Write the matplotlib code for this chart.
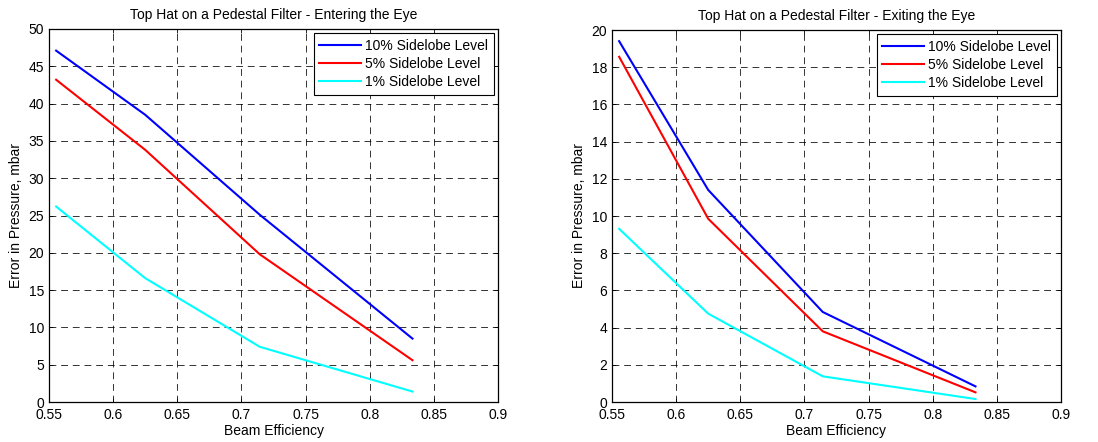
import matplotlib
matplotlib.use("Agg")
import matplotlib.pyplot as plt

plt.rcParams['font.family'] = ['Liberation Sans', 'DejaVu Sans']

# beam efficiency values
beam_eff = [5/9, 5/8, 5/7, 5/6]

# entering the eye (mbar)
enter_10 = [47.1, 38.5, 25.1, 8.5]
enter_5 = [43.2, 33.8, 19.8, 5.6]
enter_1 = [26.2, 16.6, 7.4, 1.4]

# exiting the eye (mbar)
exit_10 = [19.4, 11.4, 4.84, 0.84]
exit_5 = [18.56, 9.85, 3.8, 0.52]
exit_1 = [9.31, 4.75, 1.38, 0.16]

labels = ['10% Sidelobe Level', '5% Sidelobe Level', '1% Sidelobe Level']
colors = ['#0000ff', '#ff0000', '#00ffff']

xticks = [0.55, 0.6, 0.65, 0.7, 0.75, 0.8, 0.85, 0.9]
xticklabels = ['0.55', '0.6', '0.65', '0.7', '0.75', '0.8', '0.85', '0.9']

fig = plt.figure(figsize=(10.98, 4.42), dpi=100)
W, H = 1098.0, 442.0
FS = 10


def make_axes(left, right, top, bottom):
    return fig.add_axes([left / W, 1 - bottom / H, (right - left) / W, (bottom - top) / H])


def draw(ax, series, ymax, yticks, title):
    for vals, lab, col in zip(series, labels, colors):
        ax.plot(beam_eff, vals, color=col, linewidth=1.5, label=lab)
    ax.set_xlim(0.55, 0.9)
    ax.set_ylim(0, ymax)
    ax.set_xticks(xticks)
    ax.set_xticklabels(xticklabels)
    ax.set_yticks(yticks)
    ax.grid(True, color='k', linestyle=(0, (7, 5)), linewidth=0.7, alpha=0.8)
    ax.tick_params(direction='in', top=True, right=True, labelsize=FS,
                   length=3, width=0.6)
    ax.tick_params(axis='x', pad=4.5)
    ax.tick_params(axis='y', pad=3.5)
    for s in ax.spines.values():
        s.set_linewidth(0.9)
    ax.set_title(title, fontsize=FS, pad=7)
    ax.set_xlabel('Beam Efficiency', fontsize=FS, labelpad=1)
    ax.set_ylabel('Error in Pressure, mbar', fontsize=FS, labelpad=4)
    leg = ax.legend(loc='upper right', fontsize=FS, fancybox=False,
                    edgecolor='k', framealpha=1, borderaxespad=0.3,
                    handlelength=3.0, handletextpad=0.3, labelspacing=0.3,
                    borderpad=0.4)
    leg.get_frame().set_linewidth(0.8)


ax1 = make_axes(49, 498, 29, 402)
draw(ax1, [enter_10, enter_5, enter_1], 50, list(range(0, 51, 5)),
     'Top Hat on a Pedestal Filter - Entering the Eye')

ax2 = make_axes(612, 1061, 30, 402)
draw(ax2, [exit_10, exit_5, exit_1], 20, list(range(0, 21, 2)),
     'Top Hat on a Pedestal Filter - Exiting the Eye')

fig.savefig('out.png', dpi=100)
